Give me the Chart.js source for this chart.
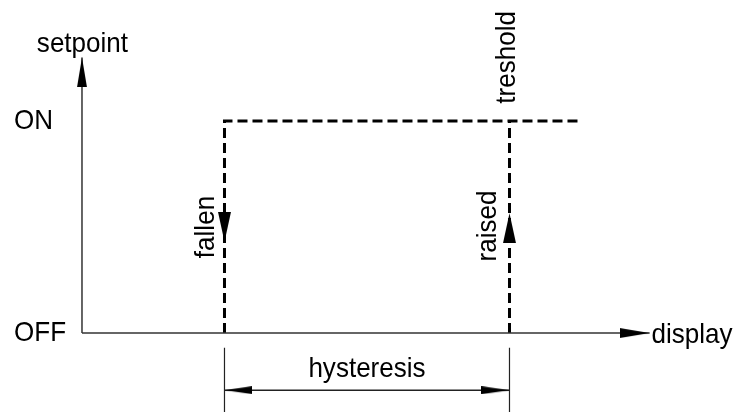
<!DOCTYPE html>
<html>
<head>
<meta charset="utf-8">
<script src="https://cdn.jsdelivr.net/npm/chart.js@4.4.1/dist/chart.umd.min.js"></script>
<style>
    html, body { margin: 0; padding: 0; background: #fff; }
    #wrap { width: 746px; height: 412px; }
</style>
</head>
<body>
<div id="wrap"><canvas id="chart"></canvas></div>
<script>
// setpoint levels (y) and their names
const levels = [0, 1];
const levelNames = ["OFF", "ON"];
// display values (x) where the output switches: fallen, treshold
const switchAt = [30, 90];
const onUntil = 104.5;
// axes run from the origin to the arrow tips
const displayAxis = [0, 119.5];
const setpointAxis = [0, 1.3];
// where the direction arrows sit on the switching lines: fallen, raised
const arrowLevels = [0.43, 0.565];
// hysteresis dimension
const hysteresisLevel = -0.27;
const extensionRange = [-0.07, -0.42];

const arrowHead = (len, wid) => {
    // triangle pointing right, tip in the middle of the canvas
    const c = document.createElement("canvas");
    c.width = len * 2;
    c.height = wid;
    const g = c.getContext("2d");
    g.fillStyle = "#000";
    g.beginPath();
    g.moveTo(0, 0);
    g.lineTo(len, wid / 2);
    g.lineTo(0, wid);
    g.closePath();
    g.fill();
    return c;
};

const axisArrow = arrowHead(30, 10);
const flowArrow = arrowHead(30, 13);
const dimArrow = arrowHead(28, 8);

const line = (data, extra) => ({
    data: data,
    showLine: true,
    borderColor: "#000",
    borderWidth: 1,
    pointRadius: 0,
    clip: false,
    ...extra,
});

const datasets = [
    // setpoint axis
    line(
        setpointAxis.map((v) => ({ x: displayAxis[0], y: v })),
        {
            borderColor: "#333",
            borderWidth: 1.5,
            pointRadius: [0, 5],
            pointStyle: ["circle", axisArrow],
            pointRotation: [0, -90],
        },
    ),
    // display axis
    line(
        displayAxis.map((v) => ({ x: v, y: levels[0] })),
        {
            borderColor: "#333",
            borderWidth: 1.5,
            pointRadius: [0, 5],
            pointStyle: ["circle", axisArrow],
            pointRotation: [0, 0],
        },
    ),
    // fallen line + ON level
    line(
        [
            { x: switchAt[0], y: levels[0] },
            { x: switchAt[0], y: levels[1] },
            { x: onUntil, y: levels[1] },
        ],
        { borderWidth: 3, borderDash: [10, 5] },
    ),
    // raised line at treshold
    line(
        levels.map((v) => ({ x: switchAt[1], y: v })),
        { borderWidth: 3, borderDash: [10, 5] },
    ),
    // direction arrows
    {
        data: switchAt.map((v, i) => ({ x: v, y: arrowLevels[i] })),
        showLine: false,
        pointRadius: 5,
        pointStyle: flowArrow,
        pointRotation: [90, -90],
        clip: false,
    },
    // extension lines
    line(extensionRange.map((v) => ({ x: switchAt[0], y: v })), { borderWidth: 1.2, borderColor: "#222" }),
    line(extensionRange.map((v) => ({ x: switchAt[1], y: v })), { borderWidth: 1.2, borderColor: "#222" }),
    // hysteresis dimension line
    line(
        switchAt.map((v) => ({ x: v, y: hysteresisLevel })),
        {
            borderWidth: 1.5,
            borderColor: "#222",
            pointRadius: 5,
            pointStyle: dimArrow,
            pointRotation: [180, 0],
        },
    ),
];

// text on the drawing, placed in data units
const notes = [
    { text: "setpoint", x: 0.1, y: 1.36, align: "center", rot: 0 },
    { text: levelNames[1], x: -14.3, y: levels[1], align: "left", rot: 0 },
    { text: levelNames[0], x: -14.3, y: levels[0], align: "left", rot: 0 },
    { text: "display", x: displayAxis[1] + 0.4, y: levels[0] - 0.01, align: "left", rot: 0 },
    { text: "hysteresis", x: 60, y: -0.17, align: "center", rot: 0 },
    { text: "treshold", x: switchAt[1] - 0.4, y: 1.3, align: "center", rot: -90 },
    { text: "fallen", x: switchAt[0] - 3.9, y: 0.5, align: "center", rot: -90 },
    { text: "raised", x: switchAt[1] - 4.4, y: 0.505, align: "center", rot: -90 },
];

const notesPlugin = {
    id: "notes",
    afterDatasetsDraw(chart) {
        const { ctx, scales } = chart;
        ctx.save();
        ctx.font = '28px "Liberation Sans", Arial, sans-serif';
        ctx.fillStyle = "#000";
        ctx.textBaseline = "middle";
        notes.forEach((n) => {
            ctx.save();
            ctx.translate(scales.x.getPixelForValue(n.x), scales.y.getPixelForValue(n.y));
            ctx.rotate((n.rot * Math.PI) / 180);
            // the lettering in the drawing is a little narrow
            ctx.scale(0.93, 1);
            ctx.textAlign = n.align;
            ctx.fillText(n.text, 0, 0);
            ctx.restore();
        });
        ctx.restore();
    },
};

new Chart(document.getElementById("chart"), {
    type: "scatter",
    data: { datasets: datasets },
    options: {
        responsive: true,
        maintainAspectRatio: false,
        animation: false,
        events: [],
        layout: { padding: 0, autoPadding: false },
        plugins: {
            legend: { display: false },
            tooltip: { enabled: false },
        },
        scales: {
            x: { type: "linear", display: false, min: -17.26, max: 139.79 },
            y: { type: "linear", display: false, min: -0.3726, max: 1.5708 },
        },
    },
    plugins: [notesPlugin],
});
</script>
</body>
</html>
